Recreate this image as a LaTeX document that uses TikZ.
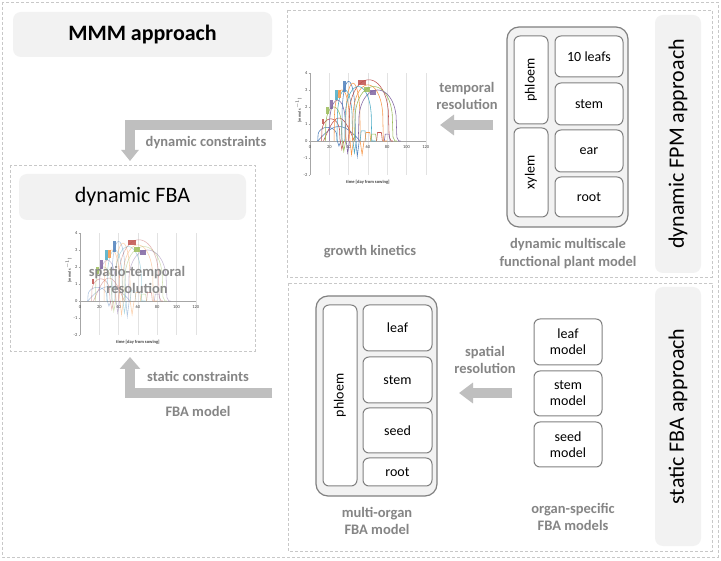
\documentclass[tikz,border=0pt]{standalone}
\usepackage{fontspec}
\setmainfont{Carlito}
\usetikzlibrary{arrows.meta}
\definecolor{dashc}{HTML}{C8C8C8}
\definecolor{headc}{HTML}{F2F2F2}
\definecolor{arrc}{HTML}{BFBFBF}
\definecolor{labc}{HTML}{858585}
\definecolor{boxc}{HTML}{808080}
\definecolor{gridc}{HTML}{E2E2E2}
\definecolor{axc}{HTML}{A6A6A6}
\definecolor{tickc}{HTML}{404040}
\definecolor{exA}{HTML}{4F81BD}
\definecolor{exB}{HTML}{C0504D}
\definecolor{exC}{HTML}{9BBB59}
\definecolor{exD}{HTML}{8064A2}
\definecolor{exE}{HTML}{4BACC6}
\definecolor{exF}{HTML}{F79646}
\newcommand\myfs[2]{\fontsize{#1}{#2}\selectfont}
\newcommand\mychart[2]{%
\begin{scope}[shift={#1}, x=0.965pt, y=17pt]
  \foreach \gx in {20,40,...,120} \draw[gridc, line width=0.5pt] (\gx,-2) -- (\gx,4);
  \draw[axc, line width=0.5pt] (0,-2) -- (0,4);
  \draw[axc, line width=0.5pt] (0,0) -- (120,0);
  \foreach \gy in {-2,...,4} {
    \draw[axc, line width=0.4pt] (-1.5,\gy) -- (0,\gy);
    \node[text=tickc, font=\myfs{4.5}{5}, inner sep=0.5pt, anchor=east] at (-2,\gy) {\gy};
  }
  \foreach \gx in {0,20,...,120}
    \node[text=tickc, font=\myfs{4.5}{5}, inner sep=0.5pt, anchor=north] at (\gx,-0.2) {\gx};
  \node[text=tickc, font=\bfseries\myfs{4.5}{5}, inner sep=0pt] at (60,-2.4) {time [day from sowing]};
  \node[text=tickc, font=\bfseries\myfs{4}{5}, inner sep=0pt, rotate=90] at (-12,1.8) {[mmol s$^{-1}$]};
  \begin{scope}[opacity=#2, line width=0.55pt]
  \draw[exA] plot[domain=8:52, samples=40, smooth] (\x, {0.85*sin(180*(\x-8)/44)});
  \draw[exB] plot[domain=14:46, samples=40, smooth] (\x, {1.35*sin(180*(\x-14)/32)});
  \foreach \pS/\pE/\pH/\pC/\pD in {8/28/0.8/exA/0.3, 12/31/1.3/exB/0.5, 16/33/2.0/exC/0.6,
      20/37/2.4/exD/0.7, 25/41/3.0/exF/0.8, 28/44/3.0/exE/0.7, 33/47/3.5/exA/0.9,
      37/52/3.4/exF/0.8, 40/82/3.6/exB/0, 44/76/3.3/exF/0, 46/86/3.2/exC/0, 50/90/3.0/exD/0,
      36/64/3.2/exE/0}
    \draw[\pC] plot[domain=\pS:\pE, samples=50] (\x, {\pH*sqrt(sqrt(abs(sin(180*(\x-\pS)/(\pE-\pS)))))})
      -- (\pE+2,-\pD) -- (\pE+4,0);
  \foreach \pX/\pY/\pC in {55/0.6/exE, 60/0.5/exF, 66/0.4/exC, 72/0.5/exB, 80/0.4/exD}
    \draw[\pC] (\pX-3,0) -- (\pX-2,\pY) -- (\pX+2,\pY) -- (\pX+3,0);
  \end{scope}
  \foreach \pA/\pB/\pL/\pH/\pC in {12/15/1.0/1.3/exB, 17/20/1.6/2.0/exC, 21/24/1.9/2.4/exD,
      26/29/2.4/3.0/exE, 29/32/2.5/3.0/exF, 34/37/2.9/3.5/exA, 50/58/3.3/3.6/exB,
      56/62/2.9/3.2/exC, 62/68/2.7/3.0/exD}
    \fill[\pC, opacity=0.85] (\pA,\pL) rectangle (\pB,\pH);
\end{scope}}
\begin{document}
\begin{tikzpicture}[x=1pt, y=-1pt,
  dashbox/.style={draw=dashc, line width=0.8pt, dash pattern=on 3pt off 2pt},
  headbox/.style={fill=headc, rounded corners=8pt, inner sep=0pt},
  container/.style={draw=boxc, fill=headc, line width=1.2pt, rounded corners=12pt, inner sep=0pt},
  cell/.style={draw=boxc, fill=white, line width=1pt, rounded corners=6pt, inner sep=0pt, font=\myfs{14}{16}, align=center},
  glabel/.style={text=labc, font=\bfseries\myfs{14.5}{17.5}, align=center, inner sep=0pt},
  bigarrow/.style={draw=arrc, line width=10pt}]
\useasboundingbox (0,0) rectangle (721,561);
\fill[white] (0,0) rectangle (721,561);
% frames
\draw[dashbox] (2,2) rectangle (718,557);
\draw[dashbox] (287,10) rectangle (712,277);
\draw[dashbox] (288,283) rectangle (712,551);
\draw[dashbox] (10,165) rectangle (255,351);
% headers
\node[headbox, minimum width=259, minimum height=45, font=\bfseries\myfs{22}{26}] (mmm) at (142.5,34.5) {MMM approach};
\node[headbox, minimum width=227, minimum height=46, font=\myfs{22}{26}] (dfba) at (132.5,197) {dynamic FBA};
\node[headbox, rotate=90, minimum width=258, minimum height=46, font=\myfs{22}{26}] (fpmapp) at (678,144) {dynamic FPM approach};
\node[headbox, rotate=90, minimum width=259, minimum height=46, font=\myfs{22}{26}] (sfbaapp) at (678,416.5) {static FBA approach};
% charts
\mychart{(310,141)}{1}
\mychart{(80,301)}{0.45}
% FPM model
\node[container, minimum width=121, minimum height=200] (fpm) at (567.5,127) {};
\node[cell, rotate=90, minimum width=88, minimum height=34] (phl1) at (531,80) {phloem};
\node[cell, rotate=90, minimum width=89, minimum height=34] (xyl) at (531,172.5) {xylem};
\node[cell, minimum width=68, minimum height=41] (leafs) at (589,56.5) {10 leafs};
\node[cell, minimum width=68, minimum height=42] (stem1) at (589,104) {stem};
\node[cell, minimum width=68, minimum height=42] (ear) at (589,151) {ear};
\node[cell, minimum width=68, minimum height=40] (root1) at (589,197) {root};
% multi-organ model
\node[container, minimum width=121, minimum height=200] (multi) at (376.5,396) {};
\node[cell, rotate=90, minimum width=181, minimum height=34] (phl2) at (340,395.5) {phloem};
\node[cell, minimum width=69, minimum height=46] (leaf2) at (397.5,328) {leaf};
\node[cell, minimum width=69, minimum height=46] (stem2) at (397.5,380) {stem};
\node[cell, minimum width=69, minimum height=45] (seed2) at (397.5,430.5) {seed};
\node[cell, minimum width=69, minimum height=28] (root2) at (397.5,472) {root};
% organ models
\node[cell, minimum width=68, minimum height=46] (lm) at (568,342) {leaf\\model};
\node[cell, minimum width=68, minimum height=45] (sm) at (568,393.5) {stem\\model};
\node[cell, minimum width=68, minimum height=45] (dm) at (568,444.5) {seed\\model};
% labels
\node[glabel] (gk) at (370,252) {growth kinetics};
\node[glabel] (tr) at (467,96) {temporal\\resolution};
\node[glabel] (dmfpm) at (568,253.5) {dynamic multiscale\\functional plant model};
\node[glabel] (mofba) at (377,521) {multi-organ\\FBA model};
\node[glabel] (osfba) at (573,517) {organ-specific\\FBA models};
\node[glabel] (sr) at (485,360) {spatial\\resolution};
\node[glabel] (dc) at (206,143) {dynamic constraints};
\node[glabel] (sc) at (198,376) {static constraints};
\node[glabel] (fm) at (198,411) {FBA model};
\node[glabel, text opacity=0.95] (str) at (137,280) {spatio-temporal\\resolution};
% arrows
\coordinate (dcs) at (272,125);
\coordinate (dce) at (130,161);
\coordinate (scs) at (272,393);
\coordinate (sce) at (130,357);
\coordinate (tas) at (493,125);
\coordinate (tae) at (440,125);
\coordinate (sas) at (512,393);
\coordinate (sae) at (459,393);
\draw[bigarrow, -{Triangle[width=17pt,length=11pt]}] (dcs) -| (dce);
\draw[bigarrow, -{Triangle[width=20pt,length=12pt]}] (scs) -| (sce);
\draw[bigarrow, -{Triangle[width=20pt,length=14pt]}] (tas) -- (tae);
\draw[bigarrow, -{Triangle[width=20pt,length=14pt]}] (sas) -- (sae);
\end{tikzpicture}
\end{document}
